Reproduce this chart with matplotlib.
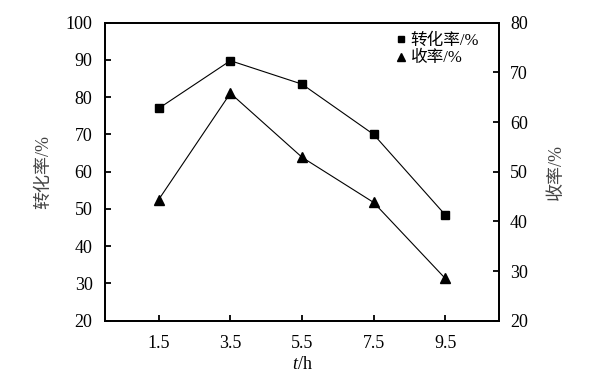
import matplotlib
matplotlib.use('Agg')
import matplotlib.pyplot as plt
from matplotlib.lines import Line2D

plt.rcParams['font.family'] = ['Liberation Serif', 'Noto Sans CJK SC']
plt.rcParams['mathtext.fontset'] = 'custom'
plt.rcParams['mathtext.rm'] = 'Liberation Serif'
plt.rcParams['mathtext.it'] = 'Liberation Serif:italic'

time_h = [1.5, 3.5, 5.5, 7.5, 9.5]
conversion = [77.0, 89.8, 83.5, 70.0, 48.4]
yield_pct = [44.4, 65.8, 52.9, 43.8, 28.5]

conv_label = '转化率/%'
yield_label = '收率/%'

fig = plt.figure(figsize=(6.05, 3.78), dpi=100)
ax = fig.add_axes([0.1736, 0.1516, 0.6512, 0.7884])
ax2 = ax.twinx()

ax.plot(time_h, conversion, color='black', lw=0.8, marker='s', ms=5.5)
ax2.plot(time_h, yield_pct, color='black', lw=0.8, marker='^', ms=6.5)

ax.set_xlim(0, 11)
ax.set_xticks(time_h)
ax.set_xticklabels(['%.1f' % t for t in time_h])
ax.set_ylim(20, 100)
ax.set_yticks(range(20, 101, 10))
ax2.set_ylim(20, 80)
ax2.set_yticks(range(20, 81, 10))

for a in (ax, ax2):
    for s in a.spines.values():
        s.set_linewidth(1.3)
    a.tick_params(direction='in', length=4, width=1.3, labelsize=13, pad=9)
ax.tick_params(axis='x', pad=10)
ax2.tick_params(axis='y', pad=8)

ax.set_xlabel('$t$/h', fontsize=13, labelpad=3)
ax.set_ylabel(conv_label, fontsize=13, color='#444444', labelpad=10)
ax2.set_ylabel(yield_label, fontsize=13, color='#444444', rotation=90, labelpad=14)

h1 = Line2D([], [], color='black', marker='s', ls='none', ms=5)
h2 = Line2D([], [], color='black', marker='^', ms=6, ls='none')
ax.legend([h1, h2], [conv_label, yield_label], loc='upper right', frameon=False,
          fontsize=12, handlelength=0.6, handletextpad=0.3, labelspacing=0.1,
          borderaxespad=0.2, bbox_to_anchor=(0.975, 1.0))

fig.savefig('out.png', dpi=100)
